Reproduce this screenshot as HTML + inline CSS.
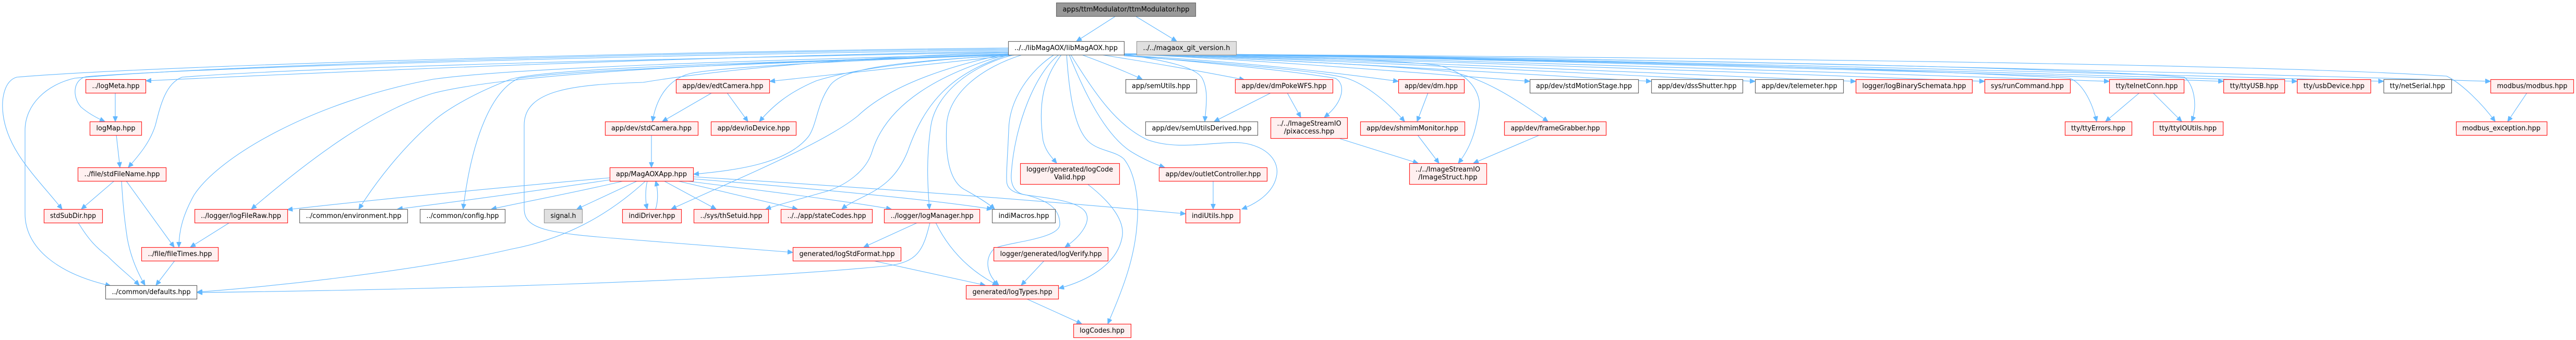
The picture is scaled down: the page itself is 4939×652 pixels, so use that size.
<!DOCTYPE html>
<html><head><meta charset="utf-8"><style>
html,body{margin:0;padding:0;background:#fff;}
svg{display:block;}
.e{fill:none;stroke:#63b8ff;stroke-width:1.1;}
.r{fill:#fff0f0;stroke:#ff2020;stroke-width:1.2;}
.w{fill:#ffffff;stroke:#666666;stroke-width:1.2;}
.g{fill:#e0e0e0;stroke:#999999;stroke-width:1.2;}
.t{fill:#999999;stroke:#666666;stroke-width:1.2;}
text{font-family:"DejaVu Sans","Liberation Sans",sans-serif;font-size:13px;fill:#000;text-anchor:middle;}
</style></head><body>
<svg width="4939" height="652" viewBox="0 0 4939 652" xmlns="http://www.w3.org/2000/svg">
<defs><marker id="a" markerUnits="userSpaceOnUse" markerWidth="11" markerHeight="9" refX="10" refY="4.5" orient="auto"><path d="M0,0 L10,4.5 L0,9 z" fill="#63b8ff" stroke="#63b8ff"/></marker></defs>
<g marker-end="url(#a)">
<path class="e" d="M2139,31 L2064,79"/>
<path class="e" d="M2177,31 L2256,79"/>
<!-- libMagAOX left group -->
<path class="e" d="M1933,92 C1300,98 300,125 32,148 C8,155 2,190 6,220 C15,290 70,340 119,401"/>
<path class="e" d="M1933,94 C1300,100 400,125 143,150 C90,162 48,200 48,250 L48,410 C48,475 110,525 212,548"/>
<path class="e" d="M1933,96 C1300,104 400,128 165,147 C140,153 138,185 155,205 C170,218 185,226 201,233"/>
<path class="e" d="M1933,98 C1300,110 700,135 280,155"/>
<path class="e" d="M1933,100 C1300,112 600,128 349,148 C318,160 308,200 298,240 C288,272 268,296 246,321"/>
<path class="e" d="M1935,103 C1500,115 1000,128 830,152 C600,195 420,300 372,374 C352,410 343,440 343,474"/>
<path class="e" d="M1937,104 C1500,118 1000,135 830,179 C720,212 600,300 482,401"/>
<path class="e" d="M1939,104 C1500,120 1060,128 979,152 C900,182 850,215 830,233 C770,285 720,350 688,401"/>
<path class="e" d="M1941,104 C1500,121 1100,133 995,150 C945,172 905,260 888,401"/>
<path class="e" d="M1935,101 C1700,106 1400,130 1233,158 C1100,162 1005,172 1005,240 L1005,400 C1005,440 1050,447 1191,458 C1350,470 1450,478 1520,484"/>
<path class="e" d="M1950,105 C1800,122 1600,142 1476,156"/>
<path class="e" d="M1940,105 C1700,113 1400,126 1323,141 C1280,152 1258,190 1251,233"/>
<path class="e" d="M1945,105 C1800,113 1650,128 1565,155 C1510,178 1480,205 1456,233"/>
<path class="e" d="M1950,105 C1720,118 1612,130 1590,166 C1566,200 1566,240 1550,262 C1510,312 1420,326 1330,334"/>
<path class="e" d="M1936,102 C1800,130 1700,170 1645,222 C1580,275 1420,340 1287,401"/>
<path class="e" d="M1936,103 C1800,140 1700,200 1672,291 C1660,330 1620,355 1588,366 C1540,380 1500,390 1468,401"/>
<path class="e" d="M1938,104 C1820,140 1772,200 1740,291 C1720,340 1690,360 1660,375 C1640,385 1625,392 1614,401"/>
<path class="e" d="M1945,105 C1860,125 1795,180 1785,240 C1776,300 1778,350 1782,401"/>
<path class="e" d="M1960,105 C1880,130 1818,180 1815,240 C1812,300 1820,350 1852,365 C1875,378 1895,390 1907,401"/>
<path class="e" d="M2021,105 C1975,135 1935,190 1934,249 C1932,300 1928,345 1931,353 C1935,368 1955,372 1968,374 C2010,385 2032,400 2032,430 C2032,460 1920,465 1905,478 C1888,495 1890,525 1915,547"/>
<path class="e" d="M2030,105 C1985,140 1945,240 1939,333 C1937,360 1950,372 1968,374 C2010,380 2064,385 2080,405 C2095,425 2070,455 2042,474"/>
<path class="e" d="M2035,105 C2000,150 1990,200 2000,270 C2005,290 2015,300 2026,313"/>
<path class="e" d="M2045,105 C2050,180 2060,250 2090,274 C2110,290 2140,290 2155,305 C2175,330 2185,380 2180,430 C2175,500 2150,560 2124,621"/>
<path class="e" d="M2050,105 C2080,180 2120,260 2169,291 C2195,307 2215,315 2233,321"/>
<path class="e" d="M2053,105 C2100,180 2140,240 2200,268 C2260,290 2330,270 2381,274 C2430,280 2455,310 2447,340 C2440,370 2410,390 2381,401"/>
<path class="e" d="M2074,105 C2120,122 2160,138 2190,152"/>
<path class="e" d="M2153,103 C2220,115 2290,125 2305,150 C2318,175 2312,205 2310,233"/>
<path class="e" d="M2111,105 C2220,122 2320,140 2386,153"/>
<!-- libMagAOX right group -->
<path class="e" d="M2155,105 C2300,120 2450,132 2560,150 C2580,160 2578,195 2539,225"/>
<path class="e" d="M2155,106 C2400,120 2550,138 2681,156"/>
<path class="e" d="M2155,107 C2400,125 2540,138 2582,150 C2620,162 2665,200 2693,233"/>
<path class="e" d="M2155,104 C2400,108 2650,112 2756,125 C2820,140 2840,180 2836,208 C2830,250 2820,283 2796,313"/>
<path class="e" d="M2155,104 C2400,112 2650,125 2778,137 C2840,148 2900,185 2968,233"/>
<path class="e" d="M2155,104 C2350,110 2750,142 2933,156"/>
<path class="e" d="M2155,104 C2400,110 2950,144 3166,156"/>
<path class="e" d="M2155,104 C2450,109 3100,144 3365,156"/>
<path class="e" d="M2155,104 C2500,109 3250,144 3558,156"/>
<path class="e" d="M2155,104 C2550,108 3450,143 3805,156"/>
<path class="e" d="M2155,103 C2600,108 3650,143 4044,156"/>
<path class="e" d="M2155,103 C2800,110 3500,125 3968,150 C3990,158 4010,190 4020,233"/>
<path class="e" d="M2155,103 C2900,110 3900,125 4188,148 C4205,160 4215,200 4202,233"/>
<path class="e" d="M2155,103 C2700,107 3850,142 4263,156"/>
<path class="e" d="M2155,103 C2750,107 3950,142 4404,156"/>
<path class="e" d="M2155,103 C2800,106 4100,142 4570,156"/>
<path class="e" d="M2155,103 C3000,108 4300,120 4691,146 C4720,160 4760,200 4784,233"/>
<path class="e" d="M2155,103 C2900,105 4300,141 4775,156"/>
<!-- MagAOXApp -->
<path class="e" d="M1169,341 C900,365 700,385 551,402"/>
<path class="e" d="M1169,345 C1000,370 850,390 762,401"/>
<path class="e" d="M1196,347 C1100,370 1000,388 942,401"/>
<path class="e" d="M1222,347 L1106,401"/>
<path class="e" d="M1238,347 C1180,400 1100,455 979,478 C800,520 500,552 378,560"/>
<path class="e" d="M1241,347 C1237,365 1237,385 1241,401"/>
<path class="e" d="M1257,401 C1262,385 1262,365 1257,347"/>
<path class="e" d="M1273,347 L1373,401"/>
<path class="e" d="M1299,347 L1529,401"/>
<path class="e" d="M1315,347 C1500,370 1650,390 1709,401"/>
<path class="e" d="M1329,343 C1600,365 1800,385 1902,401"/>
<path class="e" d="M1329,339 C1700,362 2000,385 2273,410"/>
<!-- logManager etc -->
<path class="e" d="M1783,427 C1770,480 1760,503 1700,510 C1400,540 800,556 378,561"/>
<path class="e" d="M1759,427 L1656,474"/>
<path class="e" d="M1794,427 C1820,480 1860,520 1913,547"/>
<path class="e" d="M1674,500 L1889,547"/>
<path class="e" d="M2002,500 L1958,547"/>
<path class="e" d="M2085,353 C2120,380 2160,420 2151,457 C2140,510 2080,540 2030,553"/>
<path class="e" d="M1968,573 L2074,621"/>
<path class="e" d="M2326,347 L2326,401"/>
<!-- left cluster -->
<path class="e" d="M221,178 L221,233"/>
<path class="e" d="M223,259 L230,321"/>
<path class="e" d="M219,347 L156,401"/>
<path class="e" d="M233,347 C236,400 240,430 244,457 C250,490 262,520 278,547"/>
<path class="e" d="M242,347 L334,474"/>
<path class="e" d="M150,427 C170,460 185,475 206,491 C230,515 250,530 267,547"/>
<path class="e" d="M335,500 L299,547"/>
<path class="e" d="M440,427 L365,474"/>
<path class="e" d="M1365,178 L1270,233"/>
<path class="e" d="M1394,178 L1434,233"/>
<path class="e" d="M1249,259 L1249,321"/>
<!-- dm cluster -->
<path class="e" d="M2437,178 L2328,233"/>
<path class="e" d="M2468,178 L2494,225"/>
<path class="e" d="M2738,178 L2717,233"/>
<path class="e" d="M2569,266 L2719,313"/>
<path class="e" d="M2718,259 L2759,313"/>
<path class="e" d="M2952,259 L2825,313"/>
<path class="e" d="M4102,178 L4037,233"/>
<path class="e" d="M4128,178 L4183,233"/>
<path class="e" d="M4845,178 L4808,233"/>
</g>
<!-- nodes -->
<g>
<rect class="t" x="2025.5" y="5.5" width="267" height="26"/><text x="2159" y="22" textLength="243" lengthAdjust="spacingAndGlyphs">apps/ttmModulator/ttmModulator.hpp</text>
<rect class="w" x="1933.5" y="79.5" width="222" height="26"/><text x="2044" y="96" textLength="198" lengthAdjust="spacingAndGlyphs">../../libMagAOX/libMagAOX.hpp</text>
<rect class="g" x="2179.5" y="79.5" width="191" height="26"/><text x="2275" y="96" textLength="167" lengthAdjust="spacingAndGlyphs">../../magaox_git_version.h</text>

<rect class="r" x="164.5" y="152.5" width="115" height="26"/><text x="222" y="169" textLength="91" lengthAdjust="spacingAndGlyphs">../logMeta.hpp</text>
<rect class="r" x="1296.5" y="152.5" width="179" height="26"/><text x="1386" y="169" textLength="155" lengthAdjust="spacingAndGlyphs">app/dev/edtCamera.hpp</text>
<rect class="w" x="2158.5" y="152.5" width="136" height="26"/><text x="2226" y="169" textLength="112" lengthAdjust="spacingAndGlyphs">app/semUtils.hpp</text>
<rect class="r" x="2368.5" y="152.5" width="187" height="26"/><text x="2462" y="169" textLength="163" lengthAdjust="spacingAndGlyphs">app/dev/dmPokeWFS.hpp</text>
<rect class="r" x="2681.5" y="152.5" width="126" height="26"/><text x="2744" y="169" textLength="102" lengthAdjust="spacingAndGlyphs">app/dev/dm.hpp</text>
<rect class="w" x="2933.5" y="152.5" width="208" height="26"/><text x="3037" y="169" textLength="184" lengthAdjust="spacingAndGlyphs">app/dev/stdMotionStage.hpp</text>
<rect class="w" x="3166.5" y="152.5" width="175" height="26"/><text x="3254" y="169" textLength="151" lengthAdjust="spacingAndGlyphs">app/dev/dssShutter.hpp</text>
<rect class="w" x="3365.5" y="152.5" width="169" height="26"/><text x="3450" y="169" textLength="145" lengthAdjust="spacingAndGlyphs">app/dev/telemeter.hpp</text>
<rect class="r" x="3558.5" y="152.5" width="223" height="26"/><text x="3670" y="169" textLength="199" lengthAdjust="spacingAndGlyphs">logger/logBinarySchemata.hpp</text>
<rect class="r" x="3805.5" y="152.5" width="164" height="26"/><text x="3887" y="169" textLength="140" lengthAdjust="spacingAndGlyphs">sys/runCommand.hpp</text>
<rect class="r" x="4044.5" y="152.5" width="143" height="26"/><text x="4116" y="169" textLength="119" lengthAdjust="spacingAndGlyphs">tty/telnetConn.hpp</text>
<rect class="r" x="4263.5" y="152.5" width="117" height="26"/><text x="4322" y="169" textLength="93" lengthAdjust="spacingAndGlyphs">tty/ttyUSB.hpp</text>
<rect class="r" x="4404.5" y="152.5" width="141" height="26"/><text x="4475" y="169" textLength="117" lengthAdjust="spacingAndGlyphs">tty/usbDevice.hpp</text>
<rect class="w" x="4570.5" y="152.5" width="130" height="26"/><text x="4635" y="169" textLength="106" lengthAdjust="spacingAndGlyphs">tty/netSerial.hpp</text>
<rect class="r" x="4775.5" y="152.5" width="159" height="26"/><text x="4855" y="169" textLength="135" lengthAdjust="spacingAndGlyphs">modbus/modbus.hpp</text>

<rect class="r" x="172.5" y="233.5" width="99" height="26"/><text x="222" y="250" textLength="75" lengthAdjust="spacingAndGlyphs">logMap.hpp</text>
<rect class="r" x="1160.5" y="233.5" width="178" height="26"/><text x="1249" y="250" textLength="154" lengthAdjust="spacingAndGlyphs">app/dev/stdCamera.hpp</text>
<rect class="r" x="1363.5" y="233.5" width="163" height="26"/><text x="1445" y="250" textLength="139" lengthAdjust="spacingAndGlyphs">app/dev/ioDevice.hpp</text>
<rect class="w" x="2196.5" y="233.5" width="215" height="26"/><text x="2304" y="250" textLength="191" lengthAdjust="spacingAndGlyphs">app/dev/semUtilsDerived.hpp</text>
<rect class="r" x="2436.5" y="225.5" width="147" height="40"/><text x="2510" y="241" textLength="123" lengthAdjust="spacingAndGlyphs">../../ImageStreamIO</text><text x="2510" y="256">/pixaccess.hpp</text>
<rect class="r" x="2608.5" y="233.5" width="200" height="26"/><text x="2708" y="250" textLength="176" lengthAdjust="spacingAndGlyphs">app/dev/shmimMonitor.hpp</text>
<rect class="r" x="2884.5" y="233.5" width="195" height="26"/><text x="2982" y="250" textLength="171" lengthAdjust="spacingAndGlyphs">app/dev/frameGrabber.hpp</text>
<rect class="r" x="3959.5" y="233.5" width="128" height="26"/><text x="4023" y="250" textLength="104" lengthAdjust="spacingAndGlyphs">tty/ttyErrors.hpp</text>
<rect class="r" x="4128.5" y="233.5" width="134" height="26"/><text x="4195" y="250" textLength="110" lengthAdjust="spacingAndGlyphs">tty/ttyIOUtils.hpp</text>
<rect class="r" x="4709.5" y="233.5" width="174" height="26"/><text x="4796" y="250" textLength="150" lengthAdjust="spacingAndGlyphs">modbus_exception.hpp</text>

<rect class="r" x="149.5" y="321.5" width="169" height="26"/><text x="234" y="338" textLength="145" lengthAdjust="spacingAndGlyphs">../file/stdFileName.hpp</text>
<rect class="r" x="1169.5" y="321.5" width="160" height="26"/><text x="1249" y="338" textLength="136" lengthAdjust="spacingAndGlyphs">app/MagAOXApp.hpp</text>
<rect class="r" x="1956.5" y="313.5" width="190" height="40"/><text x="2051" y="329" textLength="166" lengthAdjust="spacingAndGlyphs">logger/generated/logCode</text><text x="2051" y="344">Valid.hpp</text>
<rect class="r" x="2222.5" y="321.5" width="207" height="26"/><text x="2326" y="338" textLength="183" lengthAdjust="spacingAndGlyphs">app/dev/outletController.hpp</text>
<rect class="r" x="2702.5" y="313.5" width="148" height="40"/><text x="2776" y="329" textLength="124" lengthAdjust="spacingAndGlyphs">../../ImageStreamIO</text><text x="2776" y="344">/ImageStruct.hpp</text>

<rect class="r" x="84.5" y="401.5" width="112" height="26"/><text x="140" y="418" textLength="88" lengthAdjust="spacingAndGlyphs">stdSubDir.hpp</text>
<rect class="r" x="373.5" y="401.5" width="178" height="26"/><text x="462" y="418" textLength="154" lengthAdjust="spacingAndGlyphs">../logger/logFileRaw.hpp</text>
<rect class="w" x="574.5" y="401.5" width="207" height="26"/><text x="678" y="418" textLength="183" lengthAdjust="spacingAndGlyphs">../common/environment.hpp</text>
<rect class="w" x="805.5" y="401.5" width="163" height="26"/><text x="887" y="418" textLength="139" lengthAdjust="spacingAndGlyphs">../common/config.hpp</text>
<rect class="g" x="1043.5" y="401.5" width="73" height="26"/><text x="1080" y="418" textLength="49" lengthAdjust="spacingAndGlyphs">signal.h</text>
<rect class="r" x="1193.5" y="401.5" width="113" height="26"/><text x="1250" y="418" textLength="89" lengthAdjust="spacingAndGlyphs">indiDriver.hpp</text>
<rect class="r" x="1330.5" y="401.5" width="143" height="26"/><text x="1402" y="418" textLength="119" lengthAdjust="spacingAndGlyphs">../sys/thSetuid.hpp</text>
<rect class="r" x="1497.5" y="401.5" width="175" height="26"/><text x="1585" y="418" textLength="151" lengthAdjust="spacingAndGlyphs">../../app/stateCodes.hpp</text>
<rect class="r" x="1695.5" y="401.5" width="183" height="26"/><text x="1787" y="418" textLength="159" lengthAdjust="spacingAndGlyphs">../logger/logManager.hpp</text>
<rect class="w" x="1902.5" y="401.5" width="121" height="26"/><text x="1963" y="418" textLength="97" lengthAdjust="spacingAndGlyphs">indiMacros.hpp</text>
<rect class="r" x="2273.5" y="401.5" width="104" height="26"/><text x="2325" y="418" textLength="80" lengthAdjust="spacingAndGlyphs">indiUtils.hpp</text>

<rect class="r" x="271.5" y="474.5" width="147" height="26"/><text x="345" y="491" textLength="123" lengthAdjust="spacingAndGlyphs">../file/fileTimes.hpp</text>
<rect class="r" x="1520.5" y="474.5" width="207" height="26"/><text x="1624" y="491" textLength="183" lengthAdjust="spacingAndGlyphs">generated/logStdFormat.hpp</text>
<rect class="r" x="1905.5" y="474.5" width="219" height="26"/><text x="2015" y="491" textLength="195" lengthAdjust="spacingAndGlyphs">logger/generated/logVerify.hpp</text>

<rect class="w" x="202.5" y="547.5" width="175" height="26"/><text x="290" y="564" textLength="151" lengthAdjust="spacingAndGlyphs">../common/defaults.hpp</text>
<rect class="r" x="1852.5" y="547.5" width="177" height="26"/><text x="1941" y="564" textLength="153" lengthAdjust="spacingAndGlyphs">generated/logTypes.hpp</text>

<rect class="r" x="2058.5" y="621.5" width="110" height="26"/><text x="2113" y="638" textLength="86" lengthAdjust="spacingAndGlyphs">logCodes.hpp</text>
</g>
</svg>
</body></html>
